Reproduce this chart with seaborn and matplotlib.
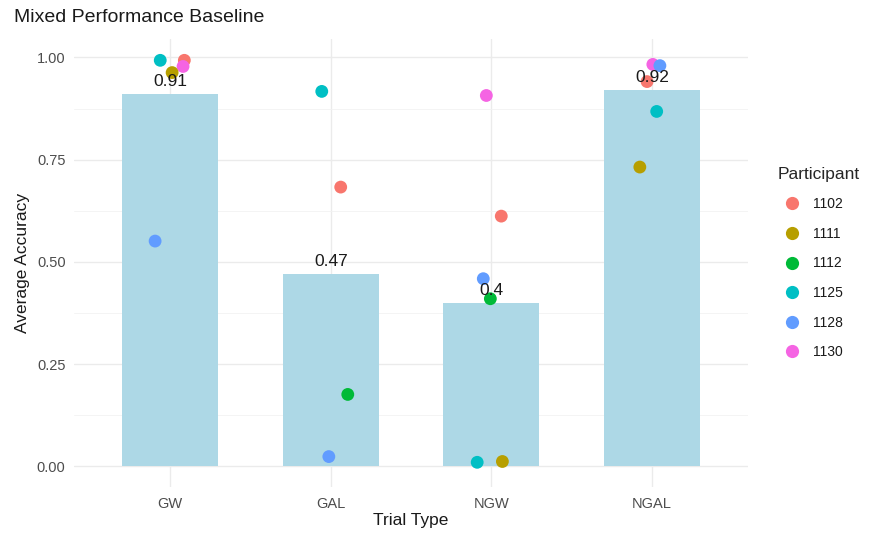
import matplotlib
matplotlib.use("Agg")
import matplotlib.pyplot as plt
import seaborn as sns
import pandas as pd
import numpy as np
from matplotlib.lines import Line2D

# Trial types and the mean accuracy shown by each bar
trial_types = ["GW", "GAL", "NGW", "NGAL"]
mean_accuracy = [0.91, 0.47, 0.40, 0.92]

# Participants and their per-trial-type accuracy (one point each)
participants = ["1102", "1111", "1112", "1125", "1128", "1130"]
pt_participant = ["1125", "1102", "1130", "1111", "1128",
                  "1125", "1102", "1112", "1128",
                  "1130", "1102", "1128", "1112", "1125", "1111",
                  "1130", "1128", "1102", "1125", "1111"]
pt_trial = ["GW", "GW", "GW", "GW", "GW",
            "GAL", "GAL", "GAL", "GAL",
            "NGW", "NGW", "NGW", "NGW", "NGW", "NGW",
            "NGAL", "NGAL", "NGAL", "NGAL", "NGAL"]
pt_accuracy = [0.993, 0.993, 0.978, 0.963, 0.551,
               0.917, 0.683, 0.176, 0.024,
               0.907, 0.612, 0.459, 0.410, 0.010, 0.012,
               0.983, 0.980, 0.941, 0.868, 0.732]
# horizontal jitter applied to each point (category units)
pt_jitter = [-0.062, 0.088, 0.080, 0.012, -0.094,
             -0.056, 0.062, 0.106, -0.012,
             -0.031, 0.062, -0.050, -0.006, -0.088, 0.069,
             0.006, 0.050, -0.030, 0.030, -0.075]

palette = dict(zip(participants,
                   ["#F8766D", "#B79F00", "#00BA38", "#00BFC4", "#619CFF", "#F564E3"]))

bars = pd.DataFrame({"Trial Type": trial_types, "Average Accuracy": mean_accuracy})
pts = pd.DataFrame({"Participant": pt_participant, "Trial Type": pt_trial,
                    "Average Accuracy": pt_accuracy, "jitter": pt_jitter})
pts["x"] = pts["Trial Type"].map({t: i for i, t in enumerate(trial_types)}) + pts["jitter"]

sns.set_theme(style="whitegrid")
plt.rcParams["font.family"] = ["Liberation Sans", "DejaVu Sans"]

fig = plt.figure(figsize=(8.69, 5.35), dpi=100)
ax = fig.add_axes([0.085, 0.09, 0.776, 0.837])

sns.barplot(data=bars, x="Trial Type", y="Average Accuracy", order=trial_types,
            color="#ADD8E6", saturation=1, width=0.6, ax=ax, zorder=2,
            linewidth=0, edgecolor="none")

for i, v in enumerate(mean_accuracy):
    ax.text(i, v + 0.012, f"{v:g}", ha="center", va="bottom", fontsize=12.5,
            color="#1a1a1a", zorder=4)

sns.scatterplot(data=pts, x="x", y="Average Accuracy", hue="Participant",
                hue_order=participants, palette=palette, s=85, linewidth=0,
                ax=ax, zorder=3, legend=False)

ax.set_xlim(-0.6, 3.6)
ax.set_ylim(-0.05, 1.045)
ax.set_yticks([0, 0.25, 0.5, 0.75, 1.0])
ax.set_yticklabels(["0.00", "0.25", "0.50", "0.75", "1.00"])
ax.set_yticks([0.125, 0.375, 0.625, 0.875], minor=True)
ax.set_xticks(range(len(trial_types)))
ax.set_xticklabels(trial_types)

ax.grid(True, which="major", color="#EBEBEB", linewidth=1.0)
ax.grid(True, which="minor", axis="y", color="#F2F2F2", linewidth=0.6)
ax.set_axisbelow(True)
for s in ax.spines.values():
    s.set_visible(False)
ax.tick_params(axis="both", which="both", length=0, labelsize=10.5,
               labelcolor="#4D4D4D")
ax.tick_params(axis="y", pad=6)
ax.tick_params(axis="x", pad=7)

ax.set_xlabel("Trial Type", fontsize=12.5, color="#1a1a1a", labelpad=2)
ax.set_ylabel("Average Accuracy", fontsize=12.5, color="#1a1a1a", labelpad=5)
fig.text(0.016, 0.967, "Mixed Performance Baseline", fontsize=14,
         color="#1a1a1a", ha="left", va="center")

handles = [Line2D([], [], marker="o", linestyle="", markersize=9.5,
                  markerfacecolor=palette[p], markeredgewidth=0, label=p)
           for p in participants]
leg = ax.legend(handles=handles, title="Participant", loc="center left",
                bbox_to_anchor=(1.036, 0.5), frameon=False, fontsize=10,
                title_fontsize=12.5, labelspacing=1.12, handletextpad=0.55,
                borderaxespad=0)
leg._legend_box.align = "left"
for t in leg.get_texts():
    t.set_color("#1a1a1a")

fig.savefig("out.png", dpi=100)
